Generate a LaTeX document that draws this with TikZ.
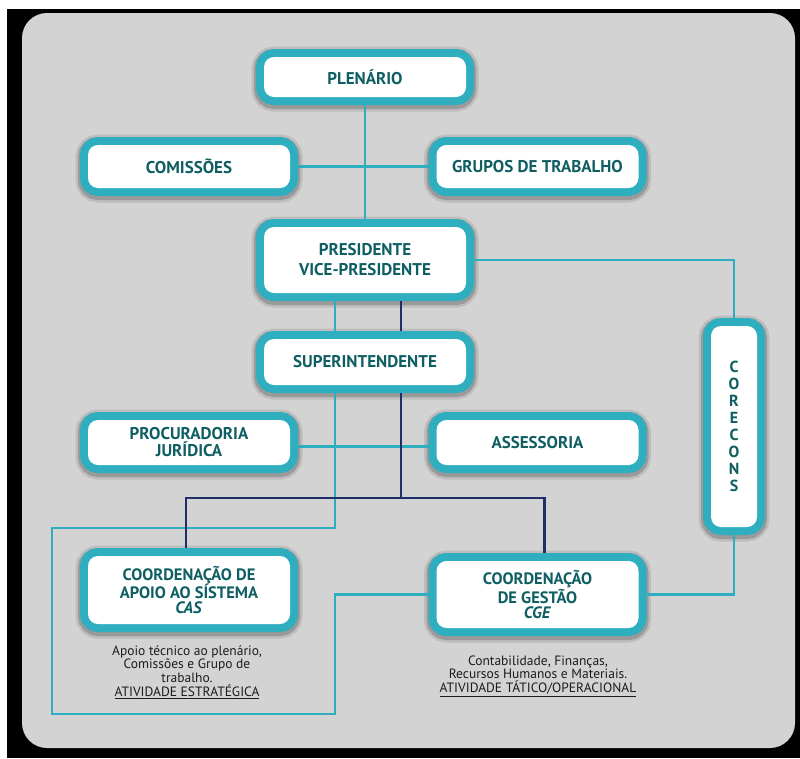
\documentclass[tikz,border=0pt]{standalone}
\usepackage{fontspec}
\setmainfont{PT Sans}
\newfontfamily\dinfont{PT Sans}
\usepackage{tikz}

\definecolor{tealc}{RGB}{47,174,191}
\definecolor{navyc}{RGB}{31,45,104}
\definecolor{unittext}{RGB}{14,94,98}
\definecolor{panel}{RGB}{211,211,211}
\definecolor{notetext}{RGB}{28,28,28}

\begin{document}
\begin{tikzpicture}[x=1pt,y=-1pt,
  unit/.style={rectangle, rounded corners=10pt, fill=white, text=unittext, align=center,
    inner sep=0pt, outer sep=8pt, minimum width=202pt, minimum height=44pt,
    font=\dinfont\bfseries\fontsize{17}{20}\selectfont,
    preaction={draw=black, draw opacity=0.10, line width=25pt, transform canvas={yshift=-2pt}},
    preaction={draw=black, draw opacity=0.18, line width=20pt, transform canvas={yshift=-2pt}},
    preaction={draw=tealc, line width=16pt}},
  link/.style={draw=tealc, line width=2.8pt},
  chain/.style={draw=navyc, line width=2.8pt},
  note/.style={align=center, inner sep=0pt, text=notetext, font=\dinfont\fontsize{13.5}{13.6}\selectfont}]

% frame and panel
\fill[white] (0,0) rectangle (800,758);
\fill[black] (7,9) rectangle (800,758);
\fill[panel, rounded corners=25pt] (22,13) rectangle (795,748);
\useasboundingbox (0,0) rectangle (800,758);

% Units
\node[unit, minimum height=40pt] (plen) at (365,77) {PLENÁRIO};
\node[unit, minimum height=43pt] (comis) at (189,166.5) {COMISSÕES};
\node[unit, minimum height=43pt] (grupos) at (537.5,166.5) {GRUPOS DE TRABALHO};
\node[unit, minimum height=66pt] (pres) at (365,260) {PRESIDENTE\\VICE-PRESIDENTE};
\node[unit, minimum height=46pt] (super) at (365,362) {SUPERINTENDENTE};
\node[unit, minimum height=45pt, font=\dinfont\bfseries\fontsize{17}{17}\selectfont] (proc) at (189,442.5) {PROCURADORIA\\JURÍDICA};
\node[unit, minimum height=45pt] (assess) at (537.5,442.5) {ASSESSORIA};
\node[unit, minimum width=46pt, minimum height=201pt, font=\dinfont\bfseries\fontsize{16}{17}\selectfont] (corecons) at (734,426.5) {C\\O\\R\\E\\C\\O\\N\\S};
\node[unit, minimum height=68pt, font=\dinfont\bfseries\fontsize{16.5}{15}\selectfont] (cas) at (189,590) {COORDENAÇÃO DE\\APOIO AO SÍSTEMA\\\textit{CAS}};
\node[unit, minimum height=67pt, font=\dinfont\bfseries\fontsize{16.5}{15}\selectfont] (cge) at (537.5,594.5) {COORDENAÇÃO\\DE GESTÃO\\\textit{CGE}};

% Text Node
\node[note] (casnote) at (187,672) {Apoio técnico ao plenário,\\Comissões e Grupo de\\trabalho.\\\underline{ATIVIDADE ESTRATÉGICA}};
% Text Node
\node[note] (cgenote) at (538,676) {Contabilidade, Finanças,\\Recursos Humanos e Materiais.\\\underline{ATIVIDADE TÁTICO/OPERACIONAL}};

% Straight Lines
\draw[link] (plen) -- (pres);
\draw[link] (comis) -- (grupos);
\draw[link] (pres) -| (corecons);
\draw[link] (corecons) |- (cge);
\draw[link] ([xshift=-30pt]pres.south) -- ([xshift=-30pt]super.north);
\draw[chain] ([xshift=36pt]pres.south) -- ([xshift=36pt]super.north);
\draw[link] ([yshift=-4pt]proc.east) -- ([yshift=-4pt]assess.west);
\coordinate (loopnw) at (52,528);
\coordinate (loopse) at (335,714);
\draw[link] ([xshift=-30pt]super.south) |- (loopnw) |- (loopse) |- (cge.west);
\coordinate (navyjn) at (401,498);
\draw[chain] ([xshift=36pt]super.south) -- (navyjn);
\draw[chain] ([xshift=-3pt]cas.north) |- (navyjn) -| ([xshift=7pt]cge.north);

\end{tikzpicture}
\end{document}
